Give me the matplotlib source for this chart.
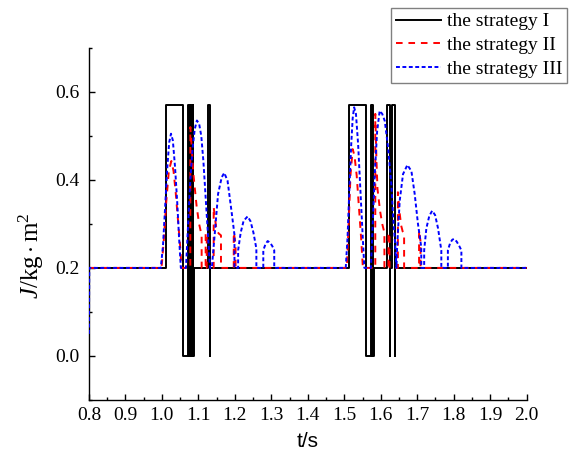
import matplotlib
matplotlib.use("Agg")
import matplotlib.pyplot as plt
from matplotlib.ticker import MultipleLocator, FormatStrFormatter

plt.rcParams['font.family'] = ['Liberation Serif', 'DejaVu Serif']
plt.rcParams['mathtext.fontset'] = 'custom'
plt.rcParams['mathtext.rm'] = 'Liberation Serif'
plt.rcParams['mathtext.it'] = 'Liberation Serif:italic'

# ---- strategy I (step function: change times and new level) ----
I_times = [0.80, 1.010, 1.059,
           1.072, 1.074, 1.076, 1.078, 1.080, 1.082, 1.084, 1.086, 1.088,
           1.127, 1.132, 1.133,
           1.512, 1.560,
           1.573, 1.575, 1.577, 1.579, 1.581,
           1.618, 1.625, 1.626, 1.632, 1.639, 1.640, 2.00]
I_levels = [0.20, 0.57, 0.00,
            0.57, 0.00, 0.57, 0.00, 0.57, 0.00, 0.57, 0.00, 0.20,
            0.57, 0.00, 0.20,
            0.57, 0.00,
            0.57, 0.00, 0.57, 0.00, 0.20,
            0.57, 0.00, 0.20, 0.57, 0.00, 0.20, 0.20]

# ---- strategy II ----
II_t = [0.800, 0.999, 1.005, 1.012, 1.019, 1.026, 1.032, 1.038, 1.044, 1.050, 1.054,
        1.078, 1.078, 1.082, 1.086, 1.091, 1.095, 1.102, 1.109, 1.109,
        1.120, 1.120, 1.123, 1.123,
        1.142, 1.142, 1.146, 1.150, 1.156, 1.162, 1.162,
        1.197, 1.197, 1.202, 1.202,
        1.507, 1.512, 1.517, 1.523, 1.528, 1.534, 1.540, 1.546, 1.551,
        1.585, 1.585, 1.588, 1.591, 1.598, 1.604, 1.610, 1.610,
        1.621, 1.621, 1.624, 1.624,
        1.647, 1.647, 1.651, 1.656, 1.660, 1.664, 1.664,
        1.705, 1.705, 1.709, 1.709, 2.000]
II_J = [0.20, 0.20, 0.26, 0.35, 0.42, 0.443, 0.42, 0.37, 0.31, 0.25, 0.20,
        0.20, 0.52, 0.47, 0.417, 0.375, 0.342, 0.300, 0.274, 0.20,
        0.20, 0.28, 0.27, 0.20,
        0.20, 0.338, 0.31, 0.285, 0.278, 0.274, 0.20,
        0.20, 0.28, 0.255, 0.20,
        0.20, 0.30, 0.41, 0.47, 0.455, 0.41, 0.34, 0.27, 0.20,
        0.20, 0.55, 0.45, 0.38, 0.33, 0.30, 0.28, 0.20,
        0.20, 0.28, 0.27, 0.20,
        0.20, 0.372, 0.33, 0.296, 0.283, 0.278, 0.20,
        0.20, 0.285, 0.26, 0.20, 0.20]

# ---- strategy III ----
III_t = [0.800, 0.801, 0.997, 1.003, 1.009, 1.015, 1.020, 1.025, 1.030, 1.036, 1.042, 1.047, 1.052,
         1.066, 1.072, 1.078, 1.084, 1.090, 1.096, 1.102, 1.108, 1.114, 1.120, 1.126, 1.132,
         1.137, 1.141, 1.145, 1.154, 1.164, 1.171, 1.180, 1.186, 1.193, 1.199, 1.199,
         1.209, 1.209, 1.216, 1.224, 1.235, 1.243, 1.251, 1.259, 1.259,
         1.278, 1.278, 1.284, 1.290, 1.297, 1.303, 1.308, 1.308,
         1.504, 1.509, 1.514, 1.519, 1.523, 1.527, 1.532, 1.538, 1.544, 1.550, 1.555,
         1.573, 1.578, 1.584, 1.590, 1.597, 1.604, 1.611, 1.620, 1.629, 1.634, 1.640, 1.643,
         1.645, 1.652, 1.661, 1.673, 1.684, 1.693, 1.702, 1.711, 1.711,
         1.719, 1.719, 1.725, 1.733, 1.741, 1.749, 1.757, 1.766, 1.766,
         1.784, 1.784, 1.790, 1.796, 1.801, 1.808, 1.815, 1.821, 1.821, 2.000]
III_J = [0.05, 0.20, 0.20, 0.25, 0.34, 0.43, 0.485, 0.505, 0.49, 0.43, 0.35, 0.27, 0.20,
         0.20, 0.30, 0.40, 0.47, 0.515, 0.535, 0.528, 0.50, 0.44, 0.36, 0.28, 0.20,
         0.20, 0.24, 0.278, 0.368, 0.406, 0.416, 0.398, 0.36, 0.315, 0.275, 0.20,
         0.20, 0.24, 0.28, 0.307, 0.317, 0.306, 0.28, 0.244, 0.20,
         0.20, 0.24, 0.254, 0.261, 0.257, 0.249, 0.24, 0.20,
         0.20, 0.27, 0.38, 0.48, 0.54, 0.565, 0.55, 0.48, 0.38, 0.28, 0.20,
         0.20, 0.30, 0.42, 0.51, 0.557, 0.55, 0.534, 0.474, 0.39, 0.315, 0.247, 0.20,
         0.25, 0.353, 0.413, 0.434, 0.42, 0.368, 0.30, 0.247, 0.20,
         0.20, 0.24, 0.29, 0.318, 0.330, 0.32, 0.29, 0.24, 0.20,
         0.20, 0.24, 0.256, 0.264, 0.266, 0.26, 0.25, 0.24, 0.20, 0.20]

labels = ['the strategy I', 'the strategy II', 'the strategy III']

fig = plt.figure(figsize=(5.7, 4.65), dpi=100)
ax = fig.add_axes([0.156, 0.140, 0.768, 0.757])

lw = 1.4
ax.step(I_times, I_levels, where='post', color='black', lw=lw, label=labels[0], zorder=3)
ax.plot(II_t, II_J, color='#ff0000', lw=lw, ls=(0, (3.4, 3.0)), label=labels[1], zorder=3)
ax.plot(III_t, III_J, color='#0000ff', lw=lw, ls=(0, (2.0, 1.3)), label=labels[2], zorder=3)

ax.set_xlim(0.8, 2.0)
ax.set_ylim(-0.1, 0.7)
ax.spines['top'].set_visible(False)
ax.spines['right'].set_visible(False)
ax.xaxis.set_major_locator(MultipleLocator(0.1))
ax.xaxis.set_minor_locator(MultipleLocator(0.05))
ax.yaxis.set_major_locator(MultipleLocator(0.2))
ax.yaxis.set_minor_locator(MultipleLocator(0.1))
ax.xaxis.set_major_formatter(FormatStrFormatter('%.1f'))
ax.yaxis.set_major_formatter(FormatStrFormatter('%.1f'))
ax.tick_params(which='both', direction='in', labelsize=14)
ax.tick_params(which='major', length=4.5, width=1.0)
ax.tick_params(which='minor', length=2.5, width=1.0)
ax.tick_params(axis='x', pad=5)
ax.tick_params(axis='y', pad=7)
for s in ['left', 'bottom']:
    ax.spines[s].set_linewidth(1.0)

ax.set_xlabel('t/s', family=['Liberation Sans'], fontsize=15, labelpad=6)
ax.set_ylabel(r'$\mathit{J}/\mathrm{kg}\cdot\mathrm{m}^{2}$', fontsize=18)
ax.yaxis.set_label_coords(-0.098, 0.41)

leg = fig.legend(loc='upper right', bbox_to_anchor=(0.995, 0.983), fontsize=14,
                 frameon=True, fancybox=False, edgecolor='#808080', framealpha=1,
                 handlelength=2.3, handletextpad=0.3, borderpad=0.25,
                 labelspacing=0.32, borderaxespad=0)
leg.get_frame().set_linewidth(1.0)

fig.savefig('out.png', dpi=100)
